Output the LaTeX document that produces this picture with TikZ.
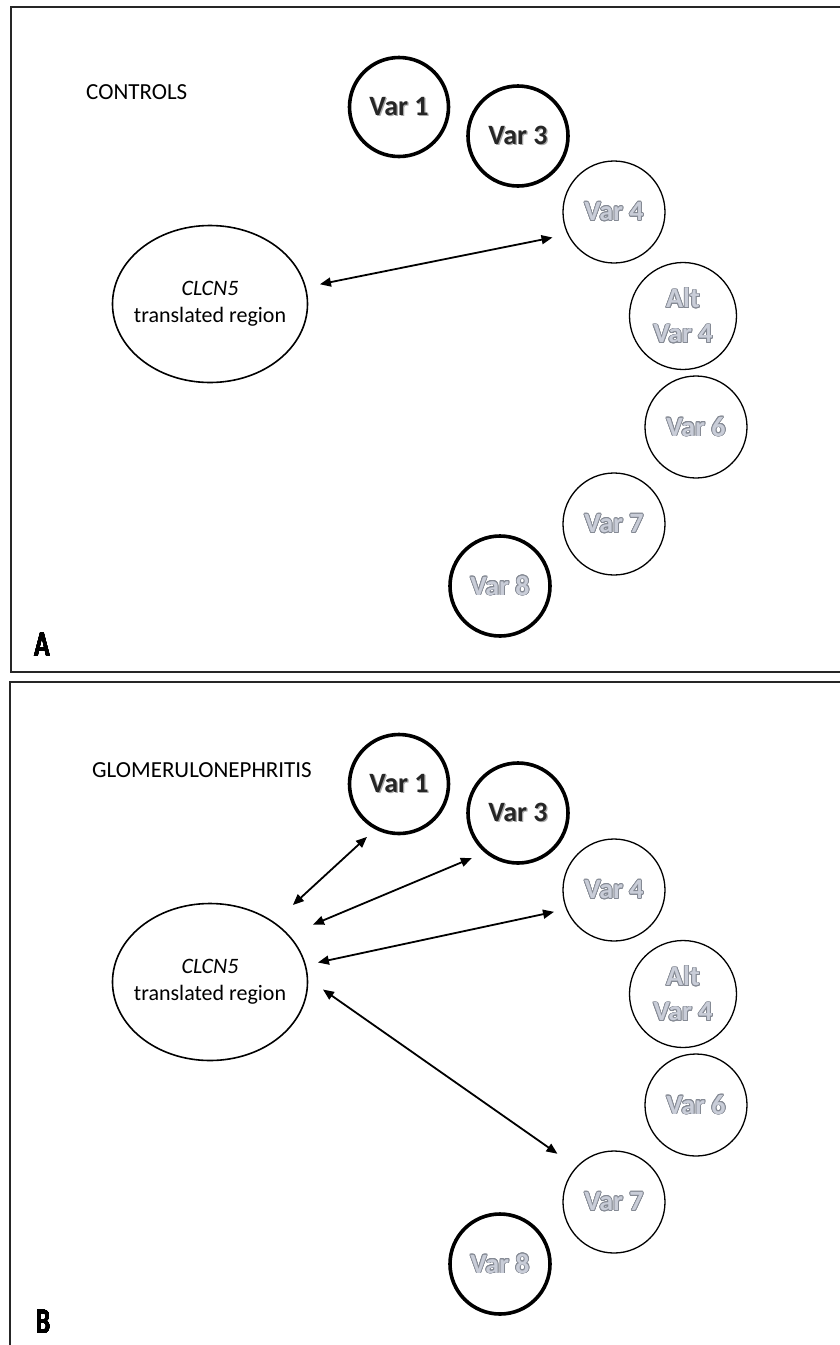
\documentclass[tikz,border=0pt]{standalone}
\usepackage{fontspec}
\setmainfont{Carlito}
\usepackage{contour}
\contourlength{0.8pt}
\usetikzlibrary{arrows.meta,shapes.geometric}
\definecolor{olfill}{HTML}{C9CDD8}
\definecolor{olline}{HTML}{858A94}
\definecolor{shdw}{HTML}{A8A8A8}
\definecolor{txtdark}{HTML}{262626}
\newcommand{\olt}[1]{\textcolor{olfill}{\contour{olline}{#1}}}
\newcommand{\shd}[1]{\rlap{\kern1.3pt\raisebox{-1.3pt}{\textcolor{shdw}{#1}}}\textcolor{txtdark}{#1}}
\newcommand{\heavy}[1]{\contourlength{0.3pt}\contour{black}{#1}}
\tikzset{
  varfont/.style={font=\bfseries\fontsize{28}{35}\selectfont, align=center},
  boldvar/.style={circle, draw, line width=3.6pt, minimum size=99pt, inner sep=0pt, outer sep=0pt, varfont},
  thinvar/.style={circle, draw, line width=1.3pt, minimum size=102pt, inner sep=0pt, outer sep=0pt, varfont},
  gene/.style={ellipse, draw, line width=1.6pt, minimum width=195pt, minimum height=157pt, inner sep=0pt, outer sep=0pt,
    label={[font=\fontsize{22}{27}\selectfont, align=center]center:{\textit{CLCN5}\\translated region}}},
  dbl/.style={line width=1.8pt, {Triangle[length=11pt,width=9pt]}-{Triangle[length=11pt,width=9pt]}},
  frame/.style={line width=2.4pt, black!85},
  grp/.style={font=\fontsize{23}{28}\selectfont, anchor=west, inner sep=0pt},
  panl/.style={font=\bfseries\fontsize{36}{40}\selectfont, inner sep=0pt}
}
\begin{document}
\begin{tikzpicture}[x=1pt,y=-1pt]
\useasboundingbox[fill=white] (0,0) rectangle (840,1345);
% frames
\draw[frame] (850,7) -| (11,672) -- (850,672);
\draw[frame] (850,682) -| (10,1360);
% ---------- panel A ----------
\node[grp] (ctl) at (86,92) {CONTROLS};
\node[panl] (la) at (42,645) {\scalebox{0.72}[1]{\heavy{A}}};
\node[gene] (ela) at (210,304) {};
\node[boldvar, minimum size=99pt] (v1a) at (399,107) {\shd{Var 1}};
\node[boldvar, minimum size=100pt] (v3a) at (518,136) {\shd{Var 3}};
\node[thinvar] (v4a) at (614,212) {\olt{Var 4}};
\node[thinvar, minimum size=107pt] (alta) at (683,316) {\olt{Alt}\\\olt{Var 4}};
\node[thinvar] (v6a) at (696,427) {\olt{Var 6}};
\node[thinvar] (v7a) at (614,524) {\olt{Var 7}};
\node[boldvar, minimum size=100pt] (v8a) at (500,586) {\olt{Var 8}};
\draw[dbl, shorten <=15pt, shorten >=16pt] (ela.10.8) -- (v4a.206.8);
% ---------- panel B ----------
\begin{scope}[shift={(0,678)}]
\node[grp] (glo) at (92,92) {GLOMERULONEPHRITIS};
\node[panl] (lb) at (43,644) {\scalebox{0.72}[1]{\heavy{B}}};
\node[gene] (elb) at (210,304) {};
\node[boldvar, minimum size=99pt] (v1b) at (399,106) {\shd{Var 1}};
\node[boldvar, minimum size=100pt] (v3b) at (518,135) {\shd{Var 3}};
\node[thinvar] (v4b) at (614,212) {\olt{Var 4}};
\node[thinvar, minimum size=107pt] (altb) at (683,316) {\olt{Alt}\\\olt{Var 4}};
\node[thinvar] (v6b) at (696,427) {\olt{Var 6}};
\node[thinvar] (v7b) at (614,524) {\olt{Var 7}};
\node[boldvar, minimum size=100pt] (v8b) at (500,586) {\olt{Var 8}};
\draw[dbl, shorten <=26pt, shorten >=13pt] (elb.43) -- (v1b.243.4);
\draw[dbl, shorten <=27pt, shorten >=16pt] (elb.31) -- (v3b.231.7);
\draw[dbl, shorten <=13pt, shorten >=13pt] (elb.10.3) -- (v4b.202.2);
\draw[dbl, shorten <=19pt, shorten >=23.5pt] (elb.2.4) -- (v7b.137.6);
\end{scope}
\end{tikzpicture}
\end{document}
